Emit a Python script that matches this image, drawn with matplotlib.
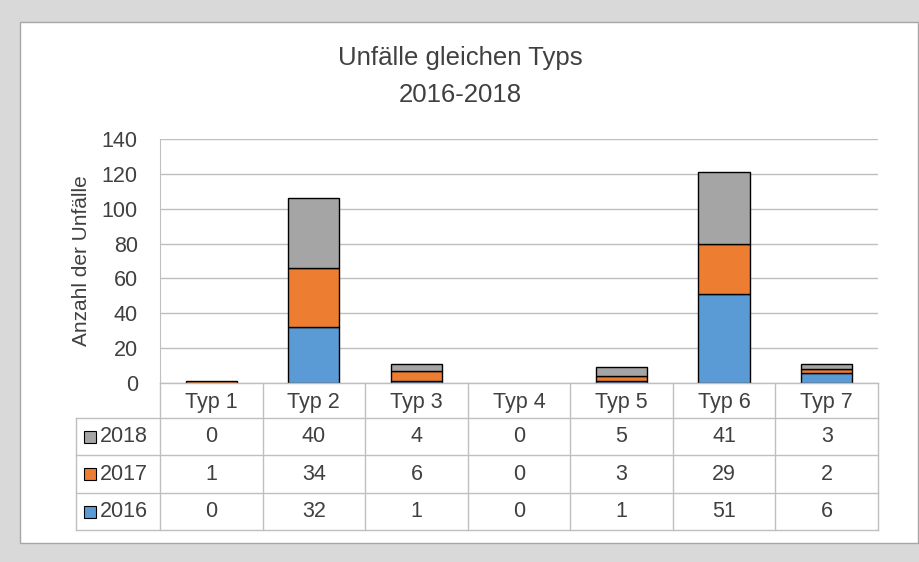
import matplotlib.pyplot as plt
import numpy as np
from matplotlib.patches import Rectangle

categories = ['Typ 1', 'Typ 2', 'Typ 3', 'Typ 4', 'Typ 5', 'Typ 6', 'Typ 7']
v2016 = [0, 32, 1, 0, 1, 51, 6]
v2017 = [1, 34, 6, 0, 3, 29, 2]
v2018 = [0, 40, 4, 0, 5, 41, 3]
years = ['2018', '2017', '2016']

c2016 = '#5b9bd5'
c2017 = '#ed7d31'
c2018 = '#a5a5a5'
txt = '#404040'
grid = '#bfbfbf'

plt.rcParams['font.family'] = ['Liberation Sans', 'DejaVu Sans']

W, H = 920, 562
fig = plt.figure(figsize=(W / 100, H / 100), dpi=100)
fig.patch.set_facecolor('#d9d9d9')

def fx(x):
    return x / W

def fy(y):
    return 1 - y / H

# white panel behind everything
fig.add_artist(Rectangle((fx(20), fy(543)), fx(918) - fx(20), fy(22) - fy(543),
                         transform=fig.transFigure, facecolor='white',
                         edgecolor='#a6a6a6', lw=1, zorder=-5))

left, right, top, bottom = 160, 878, 139, 383
ax = fig.add_axes([fx(left), fy(bottom), fx(right) - fx(left), fy(top) - fy(bottom)])
ax.set_facecolor('none')

x = np.arange(len(categories))
a16 = np.array(v2016)
a17 = np.array(v2017)
a18 = np.array(v2018)
bw = 0.5
# no outline for empty segments
ax.bar(x, a16, bw, color=c2016, edgecolor='black', lw=np.where(a16 > 0, 1, 0), zorder=3)
ax.bar(x, a17, bw, bottom=a16, color=c2017, edgecolor='black', lw=np.where(a17 > 0, 1, 0), zorder=3)
ax.bar(x, a18, bw, bottom=a16 + a17, color=c2018, edgecolor='black', lw=np.where(a18 > 0, 1, 0), zorder=3)

ax.set_xlim(-0.5, len(categories) - 0.5)
ax.set_ylim(0, 140)
ax.set_yticks(range(0, 141, 20))
ax.yaxis.grid(True, color=grid, lw=1)
ax.set_axisbelow(True)
ax.set_xticks([])
ax.tick_params(axis='y', length=0, pad=16, labelsize=15.5, labelcolor=txt)
for s in ['top', 'right', 'bottom']:
    ax.spines[s].set_visible(False)
ax.spines['left'].set_color(grid)
ax.set_ylabel('Anzahl der Unfälle', fontsize=15, color=txt, labelpad=8)

fig.text(0.5, fy(58), 'Unfälle gleichen Typs', ha='center', va='center', fontsize=18.5, color=txt)
fig.text(0.5, fy(95), '2016-2018', ha='center', va='center', fontsize=18.5, color=txt)

# data table
rows_y = [383, 418, 455, 493, 530]
colw = (right - left) / len(categories)
col_x = [left + i * colw for i in range(len(categories) + 1)]

def hline(y, x0, x1):
    fig.add_artist(plt.Line2D([fx(x0), fx(x1)], [fy(y), fy(y)], color=grid, lw=1,
                              transform=fig.transFigure))

def vline(x0, y0, y1):
    fig.add_artist(plt.Line2D([fx(x0), fx(x0)], [fy(y0), fy(y1)], color=grid, lw=1,
                              transform=fig.transFigure))

hline(rows_y[0], left, right)
for y in rows_y[1:]:
    hline(y, 76, right)
for cx in col_x:
    vline(cx, rows_y[0], rows_y[-1])
vline(76, rows_y[1], rows_y[-1])

for i, cat in enumerate(categories):
    cx = (col_x[i] + col_x[i + 1]) / 2
    fig.text(fx(cx), fy((rows_y[0] + rows_y[1]) / 2 + 2), cat, ha='center', va='center',
             fontsize=15.5, color=txt)

table_rows = [(years[0], v2018, c2018), (years[1], v2017, c2017), (years[2], v2016, c2016)]
for r, (lab, vals, col) in enumerate(table_rows):
    ym = (rows_y[r + 1] + rows_y[r + 2]) / 2
    fig.add_artist(Rectangle((fx(84), fy(ym + 6)), fx(12), fy(0) - fy(12),
                             transform=fig.transFigure, facecolor=col,
                             edgecolor='black', lw=0.8))
    fig.text(fx(100), fy(ym), lab, ha='left', va='center', fontsize=15.5, color=txt)
    for i, v in enumerate(vals):
        cx = (col_x[i] + col_x[i + 1]) / 2
        fig.text(fx(cx), fy(ym), str(v), ha='center', va='center', fontsize=15.5, color=txt)

fig.savefig('out.png', dpi=100, facecolor=fig.get_facecolor())
